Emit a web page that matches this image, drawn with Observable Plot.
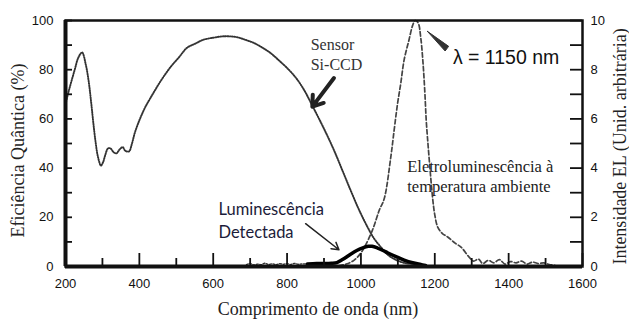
<!DOCTYPE html>
<html>
<head>
<meta charset="utf-8">
<script src="https://cdn.jsdelivr.net/npm/d3@7"></script>
<script src="https://cdn.jsdelivr.net/npm/@observablehq/plot@0.6"></script>
<style>
  body { margin: 0; background: #fff; }
  #chart svg { display: block; }
</style>
</head>
<body>
<div id="chart"></div>
<script>
// Quantum efficiency of the Si-CCD sensor (%), by wavelength (nm)
const qeNm  = [200, 210, 225, 235, 245, 255, 263, 270, 276, 282, 288, 296, 302, 308, 315, 322, 330, 338, 346, 355, 362, 372, 380, 387, 395, 403, 415, 430, 457, 484, 507, 529, 550, 574, 600, 629, 650, 665, 690, 710, 735, 755, 780, 800, 825, 846, 868, 900, 927, 950, 972, 995, 1018, 1035, 1054, 1075, 1099, 1120, 1143, 1160];
const qeVal = [66, 72, 80, 85, 87, 82, 75, 66, 57.5, 50, 44.5, 41, 42.5, 45.5, 48, 48, 46.5, 46, 47.5, 48.5, 47, 46.8, 50, 54, 57.5, 60.5, 64.5, 68.5, 75.2, 81, 85, 88.9, 90.5, 92.2, 93, 93.6, 93.5, 93.2, 92, 90.9, 88.8, 86.8, 83.5, 80.7, 76.5, 71.8, 65.5, 56, 47.3, 39, 31, 23, 16, 11.5, 7.9, 4.5, 2.4, 1.4, 1.0, 0.5];

// Room-temperature electroluminescence (arbitrary units, 0–10)
const elNm  = [940, 960, 981, 1000, 1010, 1031, 1050, 1063, 1081, 1090, 1099, 1108, 1117, 1130, 1140, 1147, 1155, 1162, 1168, 1173, 1177, 1182, 1188, 1194, 1200, 1208, 1220, 1235, 1255, 1271, 1293, 1305, 1318, 1330, 1345, 1360, 1375, 1390, 1405, 1420, 1435, 1450, 1465, 1480, 1495, 1510, 1525];
const elVal = [0.03, 0.1, 0.25, 0.55, 0.8, 1.47, 2.3, 2.75, 4.46, 5.55, 6.6, 7.46, 8.4, 9.2, 9.8, 10, 9.9, 9.3, 8.3, 7.1, 5.9, 4.9, 3.8, 2.8, 2.1, 1.6, 1.35, 1.2, 0.95, 0.79, 0.38, 0.22, 0.3, 0.12, 0.25, 0.15, 0.28, 0.1, 0.2, 0.15, 0.22, 0.1, 0.18, 0.12, 0.15, 0.08, 0.05];

// Detected luminescence (%): low-level noise, then the emission band
const noiseNm  = [690, 700, 710, 720, 730, 740, 750, 760, 770, 780, 790, 800, 810, 820, 830, 840, 855];
const noiseVal = [0.8, 1.3, 0.6, 1.0, 0.7, 1.4, 0.8, 1.1, 0.7, 1.2, 0.9, 1.2, 0.8, 1.3, 0.9, 1.1, 1.0];
const lumNm  = [855, 880, 900, 920, 935, 950, 972, 990, 1005, 1020, 1030, 1045, 1060, 1072, 1095, 1117, 1140, 1162, 1175];
const lumVal = [1.0, 1.2, 1.2, 1.3, 1.6, 2.8, 5.0, 6.6, 7.6, 8.2, 8.2, 7.5, 6.5, 5.6, 4.0, 2.6, 1.5, 0.8, 0.4];

// Axis ticks
const xMajor = [200, 400, 600, 800, 1000, 1200, 1400, 1600];
const xMinor = [300, 500, 700, 900, 1100, 1300, 1500];
const yMajor = [0, 20, 40, 60, 80, 100];
const yAll   = [0, 10, 20, 30, 40, 50, 60, 70, 80, 90, 100];

const qe    = qeNm.map((x, i) => ({x, y: qeVal[i]}));
const el    = elNm.map((x, i) => ({x, y: elVal[i]}));
const noise = noiseNm.map((x, i) => ({x, y: noiseVal[i]}));
const lum   = lumNm.map((x, i) => ({x, y: lumVal[i]}));

const sans  = "'Liberation Sans', Arial, sans-serif";
const serif = "'Liberation Serif', 'Times New Roman', serif";
const ink = "#111";

// Plot geometry, used to express inward tick lengths in data units
const W = 629, H = 320, mL = 65, mR = 47, mT = 20, mB = 54;
const xDomain = [200, 1600], yDomain = [0, 100];
const nmPerPx = (xDomain[1] - xDomain[0]) / (W - mL - mR);
const pctPerPx = (yDomain[1] - yDomain[0]) / (H - mT - mB);

// Pointer wedge next to the peak label
const wedge = [
  {x: 1180, y: 95.6},
  {x: 1228, y: 87.6},
  {x: 1237.5, y: 89.5},
  {x: 1180, y: 95.6}
];

const tickStyle = {stroke: ink, strokeWidth: 1.8};

const chart = Plot.plot({
  width: W,
  height: H,
  marginLeft: mL,
  marginRight: mR,
  marginTop: mT,
  marginBottom: mB,
  x: {domain: xDomain, axis: null},
  y: {domain: yDomain, axis: null},
  style: {background: "#fff", color: ink},
  marks: [
    // curves
    Plot.line(qe, {x: "x", y: "y", stroke: "#333", strokeWidth: 1.9, strokeDasharray: "1 1.4", curve: "catmull-rom"}),
    Plot.line(el, {x: "x", y: d => d.y * 10, stroke: "#444", strokeWidth: 1.7, strokeDasharray: "4.5 2.5", curve: "catmull-rom"}),
    Plot.line(noise, {x: "x", y: "y", stroke: "#333", strokeWidth: 1.3, strokeDasharray: "2 1.5"}),
    Plot.line(lum, {x: "x", y: "y", stroke: "#000", strokeWidth: 3.5, curve: "catmull-rom"}),

    // frame and heavy axis lines
    Plot.frame({stroke: ink, strokeWidth: 2.5}),
    Plot.ruleX([xDomain[0]], {stroke: ink, strokeWidth: 4}),
    Plot.ruleY([yDomain[0]], {stroke: ink, strokeWidth: 4}),

    // inward ticks: left (every 10), right (every 1 EL unit), bottom (major and minor)
    Plot.ruleY(yAll, {y: d => d, x1: xDomain[0], x2: xDomain[0] + 7 * nmPerPx, ...tickStyle}),
    Plot.ruleY(yAll, {y: d => d, x1: xDomain[1] - 12 * nmPerPx, x2: xDomain[1], ...tickStyle}),
    Plot.ruleX(xMajor, {x: d => d, y1: yDomain[0], y2: yDomain[0] + 13 * pctPerPx, ...tickStyle}),
    Plot.ruleX(xMinor, {x: d => d, y1: yDomain[0], y2: yDomain[0] + 8 * pctPerPx, ...tickStyle}),

    // tick labels
    Plot.axisY({ticks: yMajor, tickSize: 0, tickPadding: 12, fontSize: 13, fontFamily: sans, fill: ink, label: null}),
    Plot.axisY({anchor: "right", ticks: yMajor, tickSize: 0, tickPadding: 8, tickFormat: d => d / 10, fontSize: 13, fontFamily: sans, fill: ink, label: null}),
    Plot.axisX({ticks: xMajor, tickSize: 0, tickPadding: 12, tickFormat: d => String(d), fontSize: 13, fontFamily: sans, fill: ink, label: null}),

    // axis titles
    Plot.text(["Eficiência Quântica (%)"], {frameAnchor: "left", textAnchor: "middle", lineAnchor: "middle", dx: -47, dy: 7, rotate: -90, fontSize: 18, fontFamily: serif, fill: "#222"}),
    Plot.text(["Comprimento de onda (nm)"], {frameAnchor: "bottom", textAnchor: "middle", lineAnchor: "middle", dy: 43, dx: -6, fontSize: 18, fontFamily: serif, fill: "#222"}),
    Plot.text(["Intensidade EL (Unid. arbitrária)"], {frameAnchor: "right", textAnchor: "middle", lineAnchor: "middle", dx: 38, dy: 3, rotate: -90, fontSize: 18, fontFamily: serif, fill: "#222"}),

    // annotations
    Plot.text(["Sensor"], {x: 864, y: 90.2, textAnchor: "start", fontSize: 16, fontFamily: serif, fill: "#333"}),
    Plot.text(["Si-CCD"], {x: 864, y: 81.8, textAnchor: "start", fontSize: 16, fontFamily: serif, fill: "#333"}),
    Plot.arrow([{x1: 927, y1: 76.6, x2: 868.4, y2: 65}], {x1: "x1", y1: "y1", x2: "x2", y2: "y2", stroke: "#222", strokeWidth: 4, headLength: 6, headAngle: 70}),

    Plot.line(wedge, {x: "x", y: "y", fill: "#333", stroke: "#333", strokeWidth: 1}),
    Plot.text(["λ = 1150 nm"], {x: 1249, y: 84.9, textAnchor: "start", fontSize: 19.5, fontFamily: sans, fill: "#111"}),

    Plot.text(["Eletroluminescência à"], {x: 1125.4, y: 40.6, textAnchor: "start", fontSize: 16.5, fontFamily: serif, fill: "#222"}),
    Plot.text(["temperatura ambiente"], {x: 1125.4, y: 32.4, textAnchor: "start", fontSize: 16.5, fontFamily: serif, fill: "#222"}),

    Plot.text(["Luminescência"], {x: 614.2, y: 22.9, textAnchor: "start", fontSize: 16.5, fontFamily: "Lato, sans-serif", fill: "#1c1c3a"}),
    Plot.text(["Detectada"], {x: 614.2, y: 13.9, textAnchor: "start", fontSize: 16.5, fontFamily: "Lato, sans-serif", fill: "#1c1c3a"}),
    Plot.arrow([{x1: 850.2, y1: 17.4, x2: 940.5, y2: 6.8}], {x1: "x1", y1: "y1", x2: "x2", y2: "y2", stroke: "#222", strokeWidth: 1.5, headLength: 8})
  ]
});

document.getElementById("chart").appendChild(chart);
</script>
</body>
</html>
